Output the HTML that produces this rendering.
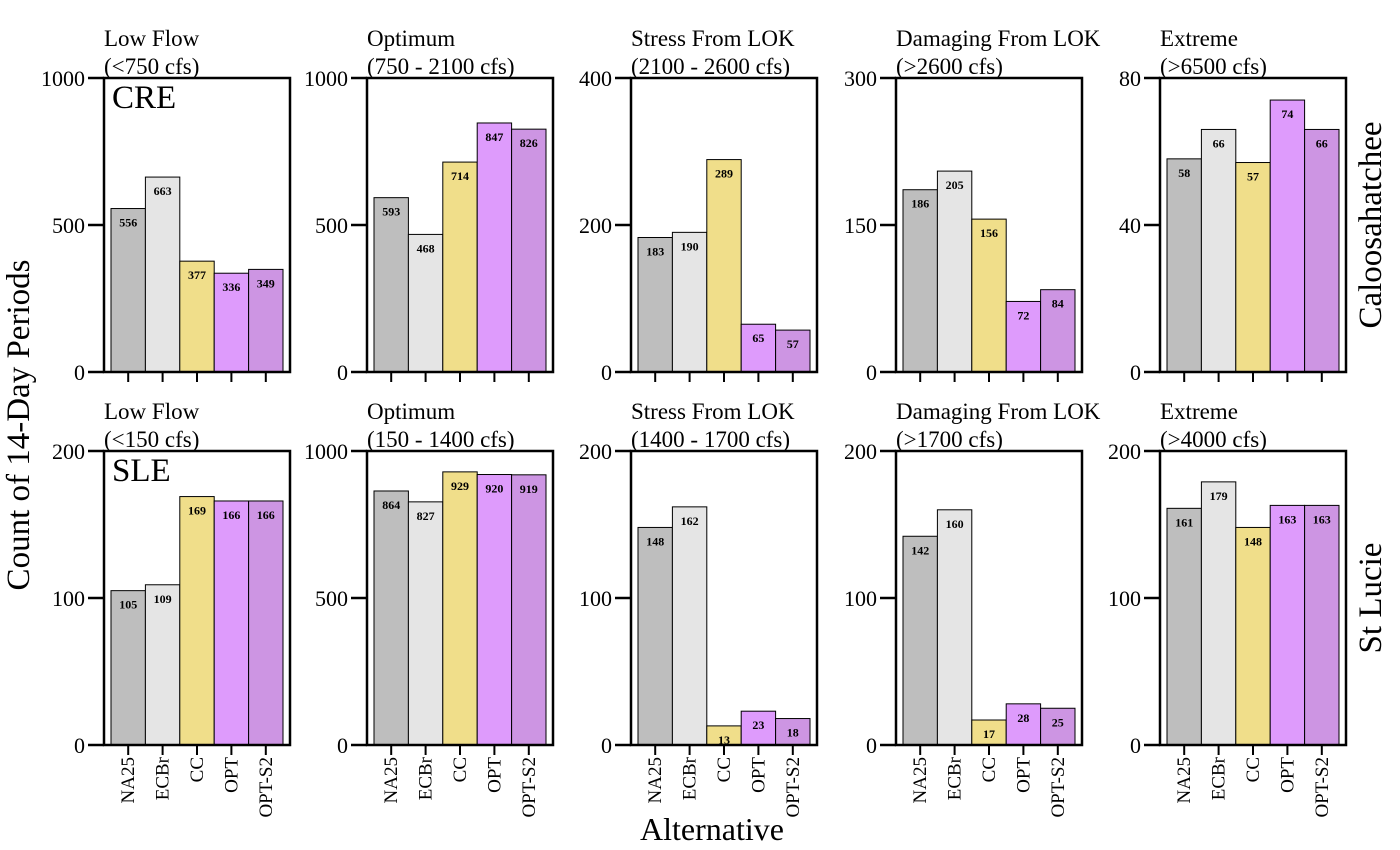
<!DOCTYPE html>
<html><head><meta charset="utf-8"><style>
body{margin:0;background:#fff;}
svg{display:block;font-family:"Liberation Serif",serif;}
</style></head><body>
<svg id="chart" width="1400" height="850" viewBox="0 0 1400 850"></svg>
<script>
const categories = ["NA25","ECBr","CC","OPT","OPT-S2"];
const colors = ["#bebebe","#e5e5e5","#f0de8a","#de9bfc","#cd95e3"];
const creTitles = [["Low Flow","(<750 cfs)"],["Optimum","(750 - 2100 cfs)"],["Stress From LOK","(2100 - 2600 cfs)"],["Damaging From LOK","(>2600 cfs)"],["Extreme","(>6500 cfs)"]];
const sleTitles = [["Low Flow","(<150 cfs)"],["Optimum","(150 - 1400 cfs)"],["Stress From LOK","(1400 - 1700 cfs)"],["Damaging From LOK","(>1700 cfs)"],["Extreme","(>4000 cfs)"]];
const creMax = [1000,1000,400,300,80];
const sleMax = [200,1000,200,200,200];
const creTicks = [[0,500,1000],[0,500,1000],[0,200,400],[0,150,300],[0,40,80]];
const sleTicks = [[0,100,200],[0,500,1000],[0,100,200],[0,100,200],[0,100,200]];
const creLowFlow = [556,663,377,336,349];
const creOptimum = [593,468,714,847,826];
const creStress = [183,190,289,65,57];
const creDamaging = [186,205,156,72,84];
const creExtreme = [58,66,57,74,66];
const sleLowFlow = [105,109,169,166,166];
const sleOptimum = [864,827,929,920,919];
const sleStress = [148,162,13,23,18];
const sleDamaging = [142,160,17,28,25];
const sleExtreme = [161,179,148,163,163];
const creValues = [creLowFlow,creOptimum,creStress,creDamaging,creExtreme];
const sleValues = [sleLowFlow,sleOptimum,sleStress,sleDamaging,sleExtreme];

const NS="http://www.w3.org/2000/svg";
const svg=document.getElementById('chart');
function mk(tag,attrs,parent,text){const e=document.createElementNS(NS,tag);for(const k in attrs)e.setAttribute(k,attrs[k]);if(text!==undefined)e.textContent=text;(parent||svg).appendChild(e);return e;}
const lefts=[104,367,631,896,1160], W=186;
const rows=[{top:78,bot:372,titles:creTitles,max:creMax,ticks:creTicks,vals:creValues,id:'cre'},
            {top:451,bot:745,titles:sleTitles,max:sleMax,ticks:sleTicks,vals:sleValues,id:'sle'}];
rows.forEach((r,ri)=>{
  lefts.forEach((L,pi)=>{
    const g=mk('g',{});
    
    
    const y=v=>r.bot-(v/r.max[pi])*(r.bot-r.top);
    const t1=mk('text',{x:L,y:r.top-32,'font-size':23},g,r.titles[pi][0]);
     
    const t2=mk('text',{x:L,y:r.top-4,'font-size':23},g,r.titles[pi][1]);
     
    const inner=W-14, bw=inner/5;
    r.vals[pi].forEach((v,i)=>{
      const x=L+7+i*bw;
      const b=mk('rect',{x:x,y:y(v),width:bw,height:r.bot-y(v),fill:colors[i],stroke:'#000','stroke-width':1},g);
      
      
      const lb=mk('text',{x:x+bw/2,y:y(v)+18,'font-size':12,'font-weight':'bold','text-anchor':'middle'},g,v);
      
      
      mk('line',{x1:x+bw/2,x2:x+bw/2,y1:r.bot,y2:r.bot+10,stroke:'#000','stroke-width':2},g);
      if(ri===1){
        const tl=mk('text',{x:0,y:0,'font-size':19,'text-anchor':'end',transform:`translate(${x+bw/2+6},${r.bot+12}) rotate(-90)`},g,categories[i]);
        
        
      }
    });
    const fr=mk('rect',{x:L,y:r.top,width:W,height:r.bot-r.top,fill:'none',stroke:'#000','stroke-width':2.5},g);
     
    r.ticks[pi].forEach(t=>{
      mk('line',{x1:L-16,x2:L,y1:y(t),y2:y(t),stroke:'#000','stroke-width':2.5},g);
      const tx=mk('text',{x:L-19,y:y(t)+8,'font-size':22,'text-anchor':'end'},g,t);
       
    });
    if(pi===0){
      const rl=mk('text',{x:L+8,y:r.top+30,'font-size':33},g,r.id.toUpperCase());
       
    }
  });
});
let e;
e=mk('text',{x:0,y:0,'font-size':33,'text-anchor':'middle',transform:'translate(29,425) rotate(-90)'},svg,'Count of 14-Day Periods');
 
e=mk('text',{x:712,y:840,'font-size':32,'text-anchor':'middle'},svg,'Alternative');
 
e=mk('text',{x:0,y:0,'font-size':33,'text-anchor':'middle',transform:'translate(1381,225) rotate(-90)'},svg,'Caloosahatchee');
 
e=mk('text',{x:0,y:0,'font-size':33,'text-anchor':'middle',transform:'translate(1381,598) rotate(-90)'},svg,'St Lucie');
 
</script>
</body></html>
